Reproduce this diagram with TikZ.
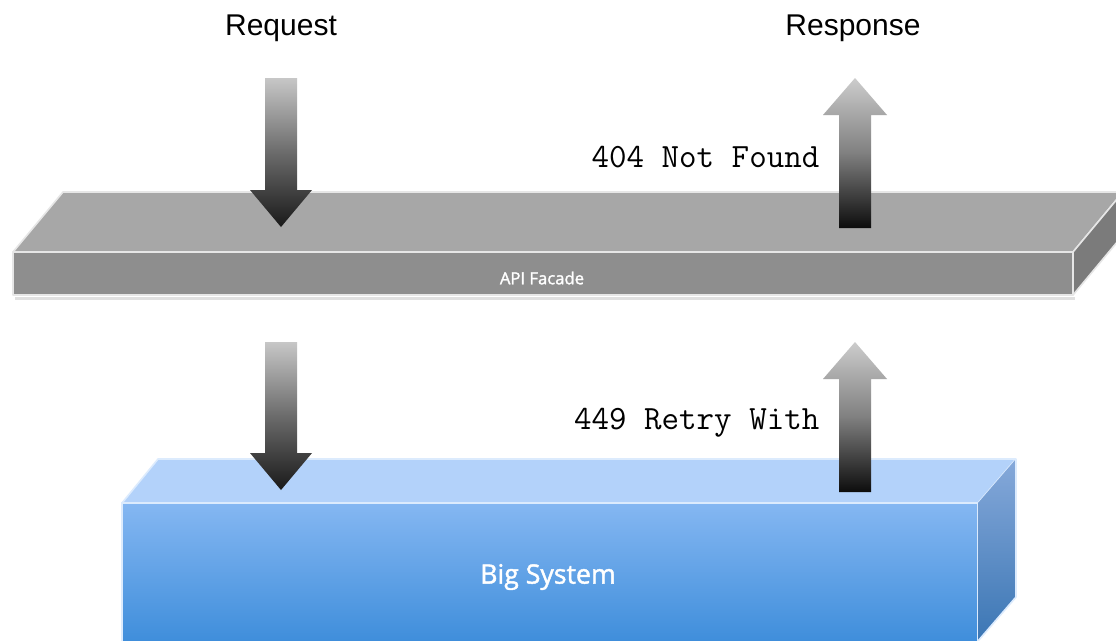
\documentclass[tikz,border=0pt]{standalone}
\usepackage{fontspec}
\setmainfont{Liberation Sans}
\setmonofont{Latin Modern Mono}
\newfontfamily\labelfont{Open Sans}[FakeBold=1.6]
\usetikzlibrary{positioning}

\definecolor{slabTop}{HTML}{A7A7A7}
\definecolor{slabFront}{HTML}{8E8E8E}
\definecolor{slabSide}{HTML}{7B7B7B}
\definecolor{boxTop}{HTML}{B3D2FA}
\definecolor{boxFrontA}{HTML}{85B7F2}
\definecolor{boxFrontB}{HTML}{3F8EDB}
\definecolor{boxSideA}{HTML}{86A9DA}
\definecolor{boxSideB}{HTML}{3B76B4}
\definecolor{edgeLight}{HTML}{E6E6E6}
\definecolor{blueEdge}{HTML}{DCEBFD}

\tikzset{
  heading/.style={font=\fontsize{22.5}{26}\selectfont, text=black},
  codetext/.style={font=\ttfamily\fontsize{25.5}{28}\selectfont, text=black, anchor=east},
  facelabel/.style={text=white},
  slabface/.style={draw=edgeLight, line width=1.2pt, line join=round},
  boxface/.style={draw=blueEdge, line width=1.2pt, line join=round},
  downshade/.style={top color=black!22, bottom color=black!90, middle color=black!58},
  upshade/.style={top color=black!20, bottom color=black!95, middle color=black!50},
}

\begin{document}
\begin{tikzpicture}[x=0.75pt, y=-0.75pt]
\useasboundingbox (0,0) rectangle (1116,640);
\clip (0,0) rectangle (1116,640);
\fill[white] (0,0) rectangle (1116,640);

% ---- API facade slab ----
\fill[black!12] (15,297) rectangle (1075,300);
\path[slabface, fill=slabTop] (63,192) -- (1123,192) -- (1073,252) -- (13,252) -- cycle;
\path[slabface, fill=slabFront] (13,252) rectangle (1073,295);
\path[slabface, fill=slabSide] (1073,252) -- (1123,192) -- (1123,235) -- (1073,295) -- cycle;
\node[facelabel, font=\labelfont\fontsize{12.5}{14}\selectfont] (facade) at (542,278) {API Facade};

% ---- big system box ----
\path[boxface, fill=boxTop] (158,459) -- (1016,459) -- (978,503) -- (122,503) -- cycle;
\shade[top color=boxFrontA, bottom color=boxFrontB] (122,503) rectangle (978,641);
\draw[blueEdge, line width=1.2pt] (122,641) -- (122,503) -- (978,503) -- (978,641);
\shade[top color=boxSideA, bottom color=boxSideB] (978,503) -- (1016,459) -- (1016,597) -- (978,641) -- cycle;
\draw[blueEdge, line width=1.2pt, line join=round] (978,641) -- (1016,597) -- (1016,459);
\node[facelabel, font=\labelfont\fontsize{20}{24}\selectfont] (system) at (548,577) {Big System};

% ---- request arrows (down) ----
\shade[downshade] (265,78) -- (297,78) -- (297,190) -- (312,190) -- (281,227)
  -- (250,190) -- (265,190) -- cycle;
\shade[downshade] (265,342) -- (297,342) -- (297,453) -- (312,453) -- (281,490)
  -- (250,453) -- (265,453) -- cycle;

% ---- response arrows (up) ----
\shade[upshade] (855,78) -- (887,115) -- (871,115) -- (871,228) -- (839,228)
  -- (839,115) -- (823,115) -- cycle;
\shade[upshade] (855,342) -- (887,379) -- (871,379) -- (871,492) -- (839,492)
  -- (839,379) -- (823,379) -- cycle;

% ---- labels ----
\node[heading] (request) at (281,28) {Request};
\node[heading] (response) at (853,28) {Response};
\node[codetext] (notfound) at (824,157) {404 Not Found};
\node[codetext] (retry) at (824,423) {449 Retry With};
\end{tikzpicture}
\end{document}
